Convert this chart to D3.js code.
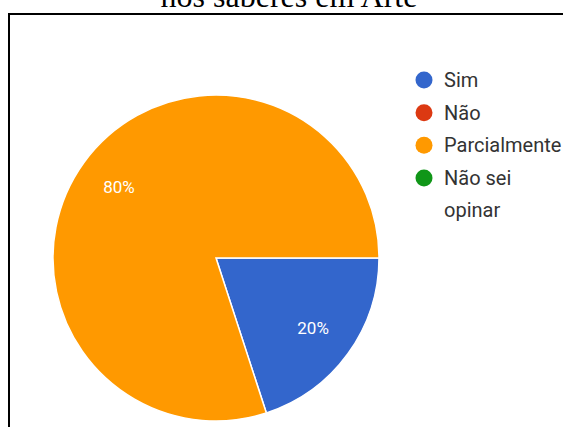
<!DOCTYPE html>
<html>
<head>
<meta charset="utf-8">
<script src="https://cdn.jsdelivr.net/npm/d3@7"></script>
<style>
  html, body { margin: 0; padding: 0; background: #fff; }
  svg { display: block; }
</style>
</head>
<body>
<svg id="chart" width="563" height="427"></svg>
<script>
// Survey answers and their shares (percent)
const categories = ["Sim", "Não", "Parcialmente", "Não sei opinar"];
const values = [20, 0, 80, 0];
const legendLines = [["Sim"], ["Não"], ["Parcialmente"], ["Não sei", "opinar"]];
const colors = ["#3366cc", "#dc3912", "#ff9900", "#109618"];
const titleText = "nos saberes em Arte";

const svg = d3.select("#chart");

// Title, partly above the top edge
svg.append("text")
  .attr("x", 289)
  .attr("y", 7)
  .attr("text-anchor", "middle")
  .attr("font-family", "'Liberation Serif', 'Times New Roman', serif")
  .attr("font-size", 32)
  .attr("fill", "#000")
  .text(titleText);

// Frame around the chart
svg.append("rect")
  .attr("x", 9).attr("y", 14)
  .attr("width", 600).attr("height", 450)
  .attr("fill", "none")
  .attr("stroke", "#000")
  .attr("stroke-width", 2);

// Pie
const cx = 216, cy = 258, R = 163;
const color = d3.scaleOrdinal().domain(categories).range(colors);
const pie = d3.pie()
  .value(d => d.value)
  .sort(null)
  .startAngle(Math.PI / 2)
  .endAngle(Math.PI / 2 + 2 * Math.PI);
const data = categories.map((c, i) => ({ name: c, value: values[i] }));
const arcs = pie(data).filter(a => a.data.value > 0);
const arc = d3.arc().innerRadius(0).outerRadius(R);
const labelArc = d3.arc().innerRadius(120).outerRadius(120);

const g = svg.append("g").attr("transform", `translate(${cx},${cy})`);
g.selectAll("path.slice")
  .data(arcs)
  .join("path")
  .attr("class", "slice")
  .attr("d", arc)
  .attr("fill", d => color(d.data.name))
  .attr("stroke", "#fff")
  .attr("stroke-width", 1.5);

const total = d3.sum(values);
g.selectAll("text.pct")
  .data(arcs)
  .join("text")
  .attr("class", "pct")
  .attr("transform", d => `translate(${labelArc.centroid(d)})`)
  .attr("text-anchor", "middle")
  .attr("dy", "0.35em")
  .attr("font-family", "Roboto, Arial, sans-serif")
  .attr("font-size", 17)
  .attr("fill", "#fff")
  .text(d => Math.round(d.data.value / total * 100) + "%");

// Legend
const legendY = d3.scalePoint().domain(categories).range([80, 178]);
const legend = svg.append("g");
const rows = legend.selectAll("g.row")
  .data(categories)
  .join("g")
  .attr("class", "row")
  .attr("transform", d => `translate(424,${legendY(d)})`);
rows.append("circle")
  .attr("r", 8.5)
  .attr("fill", d => color(d));
rows.append("text")
  .attr("x", 20)
  .attr("y", 7)
  .attr("font-family", "Roboto, Arial, sans-serif")
  .attr("font-size", 20)
  .attr("fill", "#333")
  .selectAll("tspan")
  .data((d, i) => legendLines[i])
  .join("tspan")
  .attr("x", 20)
  .attr("dy", (d, j) => j === 0 ? 0 : 32)
  .text(d => d);
</script>
</body>
</html>
